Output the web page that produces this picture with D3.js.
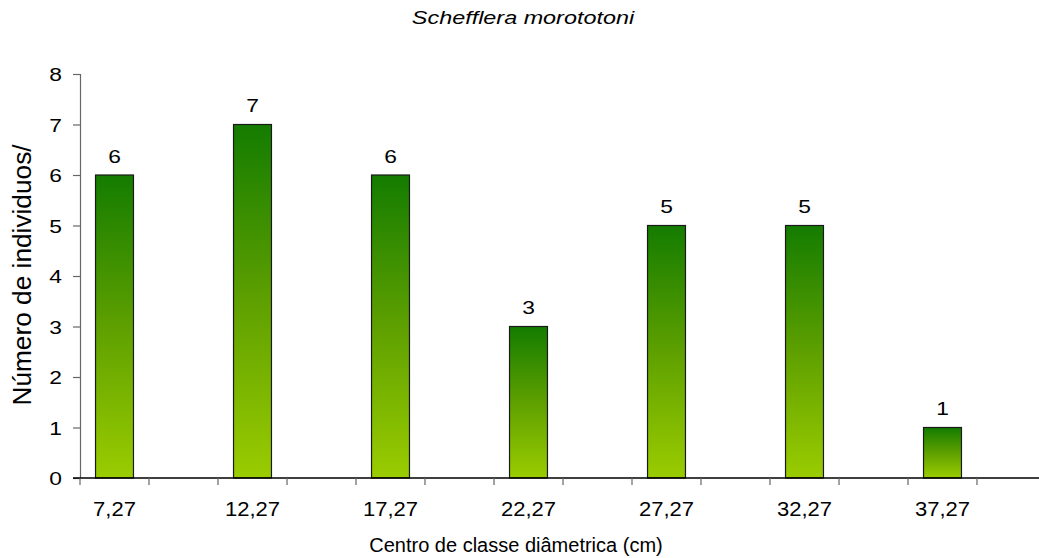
<!DOCTYPE html>
<html>
<head>
<meta charset="utf-8">
<script src="https://cdn.jsdelivr.net/npm/d3@7"></script>
<style>
  html, body { margin: 0; padding: 0; background: #fff; }
  svg { display: block; }
  text { font-family: "Liberation Sans", Arial, sans-serif; fill: #000; }
</style>
</head>
<body>
<svg id="chart" width="1039" height="558"></svg>
<script>
const title = "Schefflera morototoni";
const xTitle = "Centro de classe diâmetrica (cm)";
const yTitle = "Número de individuos/";
const categories = ["7,27", "12,27", "17,27", "22,27", "27,27", "32,27", "37,27"];
const values = [6, 7, 6, 3, 5, 5, 1];
const yTicks = [0, 1, 2, 3, 4, 5, 6, 7, 8];

const W = 1039, H = 558;
const m = { left: 80, top: 74 };
const plotRight = 977;
const plotBottom = 478;

const svg = d3.select("#chart");

// gradient
const defs = svg.append("defs");
const grad = defs.append("linearGradient").attr("id", "barGrad")
  .attr("x1", 0).attr("y1", 0).attr("x2", 0).attr("y2", 1);
grad.append("stop").attr("offset", "0%").attr("stop-color", "#147c00");
grad.append("stop").attr("offset", "50%").attr("stop-color", "#5ea000");
grad.append("stop").attr("offset", "100%").attr("stop-color", "#9acc00");

// slots: each category followed by an empty slot (except last)
const slots = [];
categories.forEach((c, i) => {
  slots.push(c);
  if (i < categories.length - 1) slots.push("__gap" + i);
});

const x = d3.scaleBand().domain(slots).range([m.left, plotRight]).padding(0);
const y = d3.scaleLinear().domain([0, 8]).range([plotBottom, m.top]);

function stretchedText(g, str, tx, ty, size, sx, anchor, extra) {
  const t = g.append("text")
    .attr("transform", `translate(${tx},${ty}) scale(${sx},1)`)
    .attr("text-anchor", anchor)
    .style("font-size", size + "px")
    .text(str);
  if (extra) extra(t);
  return t;
}

// bars
const barW = x.bandwidth() * 0.55;
svg.append("g").selectAll("rect")
  .data(categories)
  .join("rect")
  .attr("x", (d) => x(d) + (x.bandwidth() - barW) / 2)
  .attr("y", (d, i) => y(values[i]))
  .attr("width", barW)
  .attr("height", (d, i) => y(0) - y(values[i]))
  .attr("fill", "url(#barGrad)")
  .attr("stroke", "#1a1a1a")
  .attr("stroke-width", 1.2);

// data labels
const lbl = svg.append("g");
categories.forEach((c, i) => {
  stretchedText(lbl, String(values[i]), x(c) + x.bandwidth() / 2, y(values[i]) - 12.5, 19, 1.2, "middle");
});

// y axis
const yAxis = d3.axisLeft(y).tickValues(yTicks).tickSize(7).tickFormat("");
const yg = svg.append("g").attr("transform", `translate(${m.left},0)`).call(yAxis);
yg.select(".domain").attr("stroke", "#666").attr("stroke-width", 1.2);
yg.selectAll(".tick line").attr("stroke", "#666").attr("stroke-width", 1.2);
yTicks.forEach((v) => {
  stretchedText(svg, String(v), 62, y(v) + 7, 19, 1.2, "end");
});

// x axis
const xg = svg.append("g");
xg.append("line")
  .attr("x1", m.left - 7).attr("x2", W)
  .attr("y1", plotBottom).attr("y2", plotBottom)
  .attr("stroke", "#000").attr("stroke-width", 1.4);
const boundaries = slots.map((s) => x(s)).concat([x.range()[1]]);
xg.selectAll("line.tk").data(boundaries).join("line")
  .attr("class", "tk")
  .attr("x1", (d) => d).attr("x2", (d) => d)
  .attr("y1", plotBottom).attr("y2", plotBottom + 7)
  .attr("stroke", "#666").attr("stroke-width", 1.2);
categories.forEach((c) => {
  stretchedText(xg, c, x(c) + x.bandwidth() / 2, 516, 20, 1.1, "middle");
});

// titles
stretchedText(svg, title, 523, 24, 18, 1.3, "middle", (t) => t.style("font-style", "italic"));
svg.append("text")
  .attr("x", 516).attr("y", 552)
  .attr("text-anchor", "middle")
  .style("font-size", "20px")
  .text(xTitle);
svg.append("text")
  .attr("transform", `translate(31,${(m.top + plotBottom) / 2 - 1}) rotate(-90) scale(1.05,1)`)
  .attr("text-anchor", "middle")
  .style("font-size", "25px")
  .text(yTitle);
</script>
</body>
</html>
